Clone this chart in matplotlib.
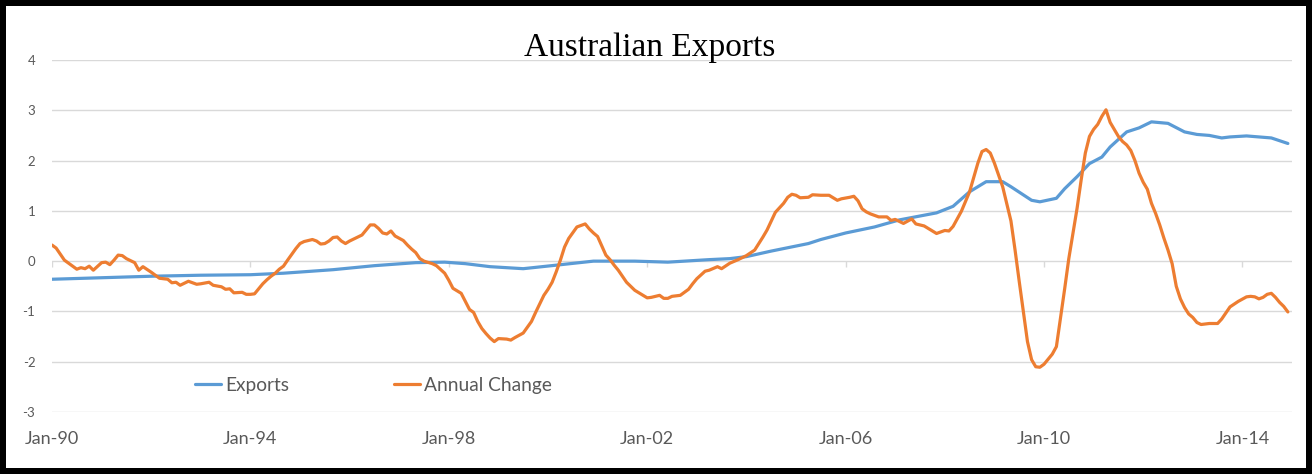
import matplotlib
matplotlib.use("Agg")
import matplotlib.pyplot as plt
from matplotlib.patches import Rectangle

# ---- data (months since Jan-1990) ----
tick_months = [0, 48, 96, 144, 192, 240, 288]
tick_labels = ["Jan-90", "Jan-94", "Jan-98", "Jan-02", "Jan-06", "Jan-10", "Jan-14"]
y_ticks = [-3, -2, -1, 0, 1, 2, 3, 4]

exports_months = [0, 12, 24, 36, 48, 56, 68, 78, 88, 95, 100, 106, 114, 122, 131, 141,
                  149, 159, 164, 168, 174, 180, 183, 186, 192, 199, 205, 214, 218, 222,
                  226, 230, 232, 237, 239, 243, 245, 248, 251, 254, 256, 260, 263, 266,
                  270, 274, 277, 280, 283, 285, 289, 292, 295, 299]
exports_values = [-0.36, -0.33, -0.30, -0.28, -0.27, -0.24, -0.17, -0.09, -0.03, -0.02,
                  -0.05, -0.11, -0.15, -0.08, 0.0, 0.0, -0.02, 0.03, 0.05, 0.09, 0.20,
                  0.30, 0.35, 0.43, 0.56, 0.68, 0.82, 0.96, 1.09, 1.38, 1.58, 1.58, 1.48,
                  1.21, 1.18, 1.25, 1.44, 1.68, 1.94, 2.07, 2.27, 2.57, 2.65, 2.77, 2.74,
                  2.57, 2.52, 2.50, 2.45, 2.47, 2.49, 2.47, 2.45, 2.34]

change_months = [0, 1, 3, 6, 7, 8, 9, 10, 12, 13, 14, 15, 16, 17, 18, 20, 21, 22, 24, 25,
                 26, 28, 29, 30, 31, 33, 35, 36, 38, 39, 41, 42, 43, 44, 46, 47, 48, 49,
                 50, 51, 52, 53, 54, 55, 56, 57, 59, 60, 61, 63, 64, 65, 66, 67, 68, 69,
                 70, 71, 72, 73, 75, 76, 77, 78, 79, 80, 81, 82, 83, 85, 86, 87, 88, 89,
                 90, 92, 93, 95, 96, 97, 99, 101, 102, 103, 104, 105, 106, 107, 108, 110,
                 111, 112, 114, 116, 117, 119, 120, 121, 122, 123, 124, 125, 127, 129,
                 130, 131, 132, 134, 135, 136, 137, 139, 141, 142, 144, 145, 147, 148,
                 149, 150, 152, 154, 155, 156, 158, 159, 161, 162, 164, 166, 168, 170,
                 172, 173, 175, 177, 178, 179, 180, 181, 183, 184, 186, 188, 190, 191,
                 193, 194, 195, 196, 197, 198, 200, 202, 203, 204, 206, 208, 209, 211,
                 213, 214, 216, 217, 218, 220, 222, 224, 225, 226, 227, 228, 230, 232,
                 233, 234, 235, 236, 237, 238, 239, 240, 241, 242, 243, 244, 245, 246,
                 247, 248, 249, 250, 251, 252, 253, 254, 255, 256, 257, 258, 259, 260,
                 261, 262, 263, 264, 265, 266, 267, 268, 269, 270, 271, 272, 273, 274,
                 275, 276, 277, 278, 280, 282, 283, 284, 285, 287, 289, 290, 291, 292,
                 293, 294, 295, 296, 297, 298, 299]
change_values = [0.32, 0.26, 0.02, -0.16, -0.13, -0.15, -0.10, -0.18, -0.03, -0.02, -0.07,
                 0.02, 0.12, 0.11, 0.05, -0.03, -0.18, -0.11, -0.22, -0.28, -0.34, -0.36,
                 -0.43, -0.42, -0.48, -0.40, -0.46, -0.45, -0.42, -0.48, -0.51, -0.56,
                 -0.55, -0.63, -0.62, -0.66, -0.66, -0.65, -0.55, -0.45, -0.37, -0.30,
                 -0.24, -0.16, -0.10, 0.02, 0.25, 0.35, 0.39, 0.43, 0.40, 0.34, 0.35,
                 0.40, 0.47, 0.48, 0.40, 0.35, 0.40, 0.44, 0.52, 0.62, 0.72, 0.72, 0.65,
                 0.56, 0.54, 0.60, 0.50, 0.41, 0.32, 0.24, 0.17, 0.05, 0.0, -0.05, -0.09,
                 -0.24, -0.38, -0.54, -0.64, -0.96, -1.02, -1.20, -1.34, -1.44, -1.53,
                 -1.60, -1.54, -1.55, -1.57, -1.52, -1.43, -1.20, -1.02, -0.68, -0.56,
                 -0.42, -0.21, 0.02, 0.28, 0.45, 0.68, 0.74, 0.64, 0.56, 0.49, 0.12, 0.03,
                 -0.08, -0.18, -0.42, -0.58, -0.63, -0.73, -0.72, -0.68, -0.74, -0.74,
                 -0.70, -0.68, -0.56, -0.45, -0.35, -0.20, -0.18, -0.11, -0.15, -0.04,
                 0.03, 0.11, 0.22, 0.48, 0.62, 0.97, 1.15, 1.27, 1.33, 1.31, 1.26, 1.27,
                 1.32, 1.31, 1.31, 1.21, 1.24, 1.27, 1.29, 1.20, 1.04, 0.98, 0.94, 0.88,
                 0.88, 0.81, 0.83, 0.75, 0.84, 0.74, 0.70, 0.60, 0.55, 0.61, 0.60, 0.69,
                 0.99, 1.38, 1.95, 2.18, 2.22, 2.15, 1.95, 1.48, 0.80, 0.22, -0.40, -1.00,
                 -1.60, -1.96, -2.10, -2.11, -2.05, -1.95, -1.85, -1.70, -1.13, -0.55,
                 0.05, 0.55, 1.05, 1.62, 2.15, 2.48, 2.62, 2.72, 2.88, 3.01, 2.76, 2.62,
                 2.48, 2.38, 2.31, 2.20, 2.00, 1.75, 1.57, 1.43, 1.15, 0.95, 0.72, 0.46,
                 0.22, -0.05, -0.50, -0.75, -0.92, -1.05, -1.12, -1.22, -1.26, -1.24,
                 -1.24, -1.15, -1.03, -0.91, -0.80, -0.71, -0.70, -0.71, -0.75, -0.72,
                 -0.66, -0.64, -0.72, -0.82, -0.90, -1.01]

BLUE = "#5B9BD5"
ORANGE = "#ED7D31"
GRAY_TXT = "#595959"
GRID = "#D9D9D9"
SANS = ["Lato", "DejaVu Sans"]

W, H = 1312, 474
fig = plt.figure(figsize=(W / 100, H / 100), dpi=100)
ax = fig.add_axes([52 / W, 1 - 412 / H, 1240 / W, 352 / H])

ax.plot(exports_months, exports_values, color=BLUE, lw=2.3, label="Exports",
        solid_joinstyle="round", solid_capstyle="round", zorder=3)
ax.plot(change_months, change_values, color=ORANGE, lw=2.3, label="Annual Change",
        solid_joinstyle="round", solid_capstyle="round", zorder=4)

ax.set_xlim(0, 300)
ax.set_ylim(-3, 4)
ax.set_yticks(y_ticks)
ax.set_yticklabels([str(v) for v in y_ticks], family=SANS, fontsize=9.5, color=GRAY_TXT)
ax.set_xticks(tick_months)
ax.set_xticklabels(tick_labels, family=SANS, fontsize=13, color=GRAY_TXT)
ax.tick_params(axis="y", length=0, pad=12)
ax.tick_params(axis="x", length=0, pad=14)
for s in ax.spines.values():
    s.set_visible(False)
ax.yaxis.grid(True, color=GRID, lw=1.0)
ax.set_axisbelow(True)
# small tick marks on the zero axis line
ax.vlines(tick_months, -0.12, 0, color=GRID, lw=1.0, zorder=1)

leg = fig.legend(loc="center left", bbox_to_anchor=(195 / W, 1 - 385 / H), ncol=2,
                 frameon=False, prop={"family": SANS, "size": 13.8},
                 handlelength=1.36, handletextpad=0.2, columnspacing=5.5,
                 borderpad=0, borderaxespad=0)
for t in leg.get_texts():
    t.set_color(GRAY_TXT)

fig.text(650 / W, 1 - 48 / H, "Australian Exports", ha="center", va="center",
         family=["Liberation Serif", "DejaVu Serif"], fontsize=24, color="black")

fig.patches.append(Rectangle((3 / W, 3 / H), 1 - 6 / W, 1 - 6 / H, transform=fig.transFigure,
                             fill=False, lw=6 * 0.72, ec="black"))

fig.savefig("out.png", dpi=100)
